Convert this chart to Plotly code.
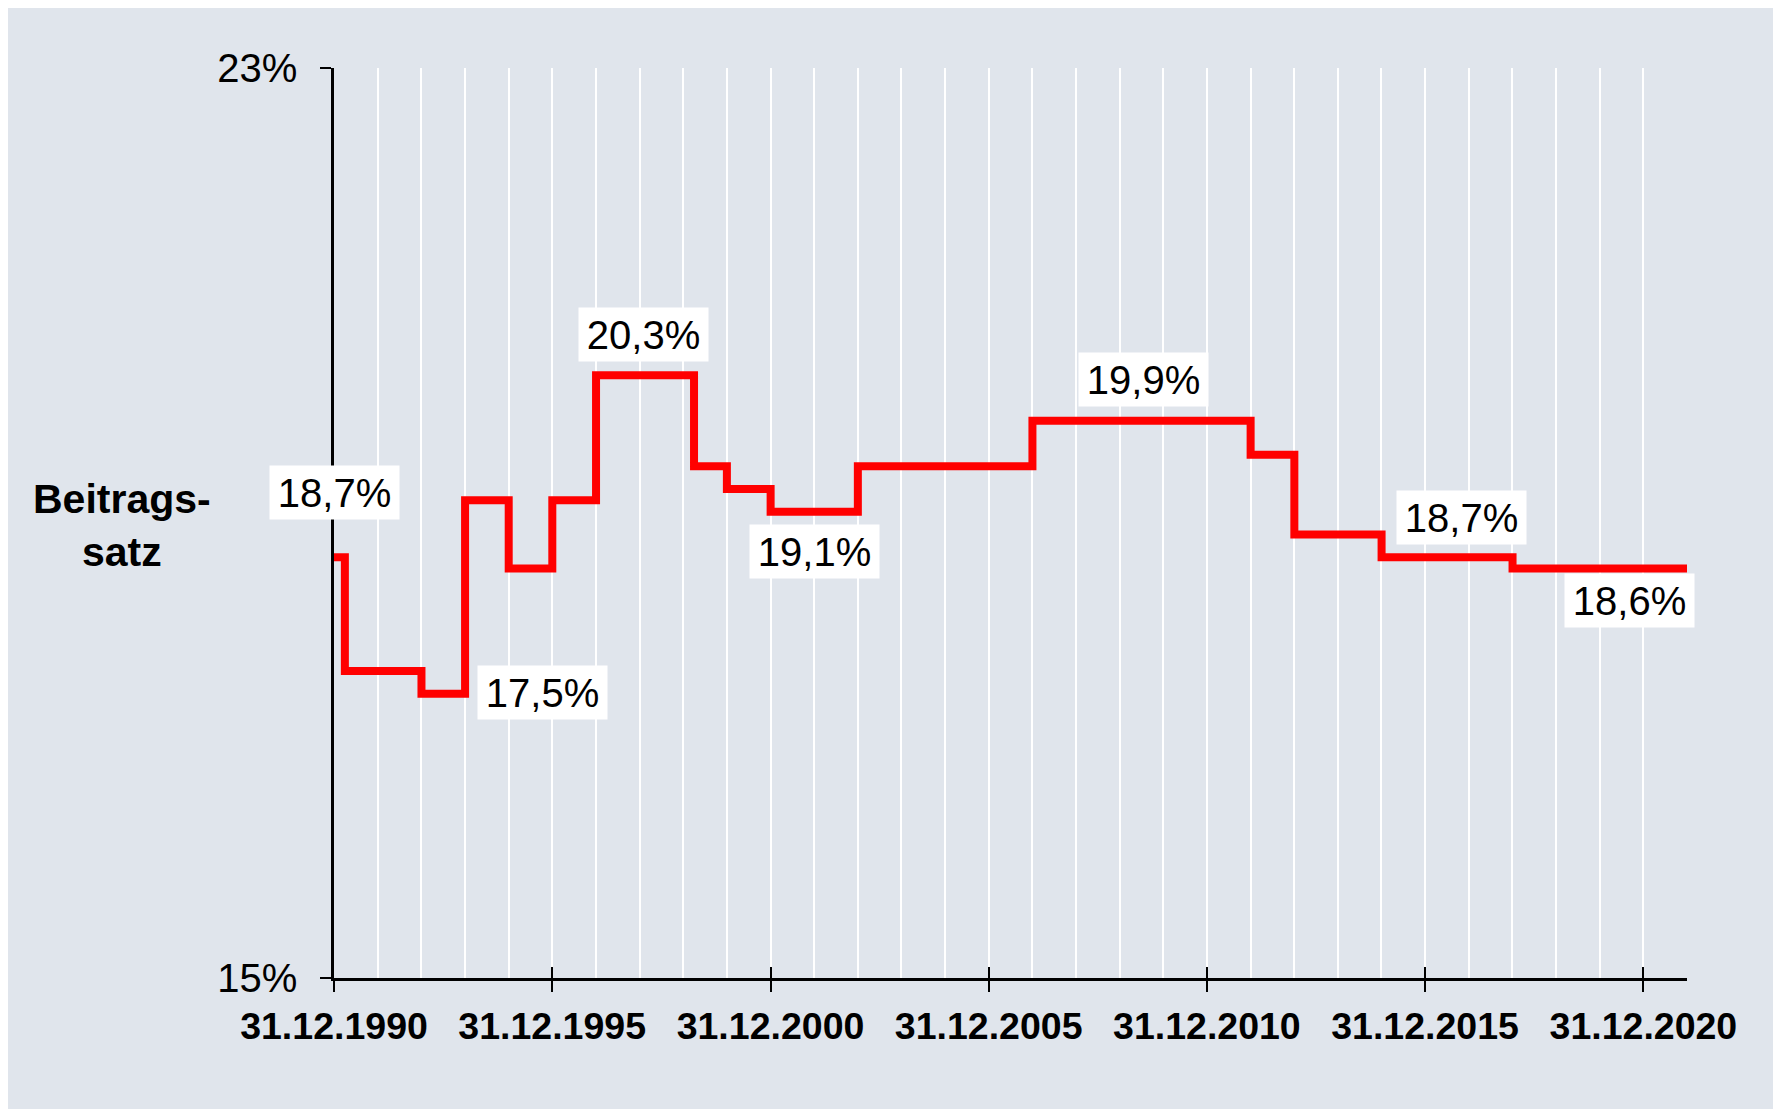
import plotly.graph_objs as go

# Beitragssatz (contribution rate, %) with the date each rate came into force
change_dates = [
    "1990-12-31", "1991-04-01", "1993-01-01", "1994-01-01", "1995-01-01",
    "1996-01-01", "1997-01-01", "1999-04-01", "2000-01-01", "2001-01-01",
    "2003-01-01", "2007-01-01", "2012-01-01", "2013-01-01", "2015-01-01",
    "2018-01-01", "2021-12-31",
]
rates = [
    18.7, 17.7, 17.5, 19.2, 18.6,
    19.2, 20.3, 19.5, 19.3, 19.1,
    19.5, 19.9, 19.6, 18.9, 18.7,
    18.6, 18.6,
]

tick_dates = ["1990-12-31", "1995-12-31", "2000-12-31", "2005-12-31",
              "2010-12-31", "2015-12-31", "2020-12-31"]
tick_labels = ["31.12.1990", "31.12.1995", "31.12.2000", "31.12.2005",
               "31.12.2010", "31.12.2015", "31.12.2020"]
year_grid = ["%d-12-31" % year for year in range(1991, 2021)]

label_values = [18.7, 17.5, 20.3, 19.1, 19.9, 18.7, 18.6]

FONT = "Liberation Sans, Arial, sans-serif"
BACKGROUND = "#E0E5EC"


def format_rate(value):
    """German style percentage, e.g. 18,7%."""
    return ("%.1f" % value).replace(".", ",") + "%"


def visualize():

    figure = go.Figure()

    # Step line of the contribution rate
    figure.add_trace(go.Scatter(
        x=change_dates,
        y=rates,
        mode="lines",
        line={"color": "#FF0000", "width": 8, "shape": "hv"},
        showlegend=False,
        hoverinfo="skip"
    ))

    # Empty trace so the second x axis (inner halves of the ticks) is drawn
    figure.add_trace(go.Scatter(
        x=tick_dates,
        y=[None] * len(tick_dates),
        xaxis="x2",
        mode="lines",
        showlegend=False,
        hoverinfo="skip"
    ))

    # The page body adds an 8px white border on the left and top
    figure.update_layout(
        autosize=False,
        width=1773,
        height=1101,
        margin={"l": 326, "r": 94, "t": 60, "b": 131},
        paper_bgcolor=BACKGROUND,
        plot_bgcolor=BACKGROUND,
        font={"family": FONT, "color": "black"}
    )

    figure.update_xaxes(
        type="date",
        range=["1990-12-31", "2021-12-31"],
        tickmode="array",
        tickvals=tick_dates,
        ticktext=tick_labels,
        tickfont={"size": 37.5, "family": FONT, "weight": "bold"},
        ticks="outside",
        ticklen=11,
        tickwidth=2,
        tickcolor="black",
        ticklabelstandoff=2,
        showline=True,
        linecolor="black",
        linewidth=3,
        showgrid=True,
        gridcolor="white",
        gridwidth=1.5,
        minor={"tickvals": year_grid, "showgrid": True,
               "gridcolor": "white", "gridwidth": 1.5, "ticks": ""},
        zeroline=False
    )
    figure.update_layout(xaxis2=dict(
        type="date",
        overlaying="x",
        side="bottom",
        anchor="y",
        matches="x",
        range=["1990-12-31", "2021-12-31"],
        tickmode="array",
        tickvals=tick_dates,
        ticks="inside",
        ticklen=11,
        tickwidth=2,
        tickcolor="black",
        showticklabels=False,
        showline=False,
        showgrid=False,
        zeroline=False
    ))

    figure.update_yaxes(
        range=[15, 23],
        tickmode="array",
        tickvals=[15, 23],
        ticktext=["15%", "23%"],
        tickfont={"size": 40, "family": FONT},
        ticks="outside",
        ticklen=11,
        tickwidth=2,
        tickcolor="black",
        ticklabelstandoff=15,
        showline=True,
        linecolor="black",
        linewidth=2.5,
        showgrid=False,
        zeroline=False
    )

    # Value labels in white boxes
    label_positions = [
        ("1990-12-31", 19.27), ("1995-10-10", 17.51), ("1998-02-02", 20.66),
        ("2001-12-31", 18.75), ("2009-07-22", 20.26), ("2016-10-30", 19.05),
        ("2020-09-09", 18.32),
    ]
    for value, (x, y) in zip(label_values, label_positions):
        figure.add_annotation(
            x=x, y=y, text=format_rate(value), showarrow=False,
            xanchor="center", yanchor="middle",
            font={"size": 40, "family": FONT, "color": "black"},
            bgcolor="white", borderpad=3, width=123, height=47
        )

    # Axis title on the left
    figure.add_annotation(
        xref="paper", yref="paper", x=-0.1567, y=0.4978,
        text="Beitrags-<br>satz", showarrow=False,
        xanchor="center", yanchor="middle", align="center",
        font={"size": 41, "family": FONT, "weight": "bold", "color": "black"}
    )

    figure.write_html("out.html")


if __name__ == '__main__':
    visualize()
